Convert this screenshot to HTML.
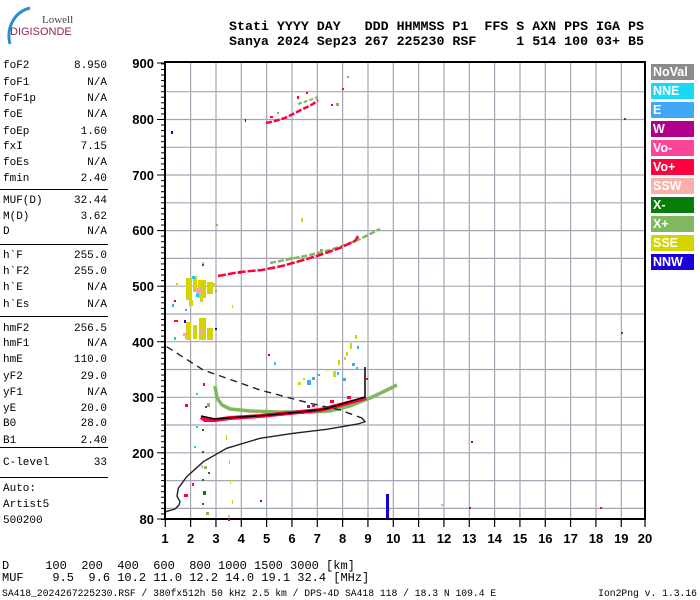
<!DOCTYPE html>
<html><head><meta charset="utf-8"><style>
html,body{margin:0;padding:0;background:#fff;width:700px;height:600px;overflow:hidden;position:relative}
.t{position:absolute;font-family:"Liberation Mono",monospace;font-size:11px;color:#000;white-space:pre;line-height:12px}
.v{position:absolute;font-family:"Liberation Mono",monospace;font-size:11px;color:#000;text-align:right;width:60px;left:47px;line-height:12px}
.sep{position:absolute;left:0;width:108px;height:0;border-top:1.5px solid #000}
.hd{position:absolute;font-family:"Liberation Mono",monospace;font-weight:bold;font-size:13.3px;white-space:pre;left:229px;line-height:14px}
.lg{position:absolute;left:651px;width:43px;height:16px;color:#fff;font-family:"Liberation Sans",sans-serif;font-weight:bold;font-size:12.5px;line-height:16px;padding-left:2px;box-sizing:border-box}
</style></head><body>
<svg width="700" height="600" style="position:absolute;left:0;top:0">
<path d="M10,44 C6,28 14,12 30,8" stroke="#2a8fd0" stroke-width="3" fill="none"/>
<text x="42" y="23" font-family="Liberation Serif,serif" font-size="11" fill="#444">Lowell</text>
<text x="10" y="35" font-family="Liberation Sans,sans-serif" font-size="11" fill="#a0205a">DIGISONDE</text>
<g stroke="#a4a6b4" stroke-width="1.2">
<line x1="190.6" y1="63" x2="190.6" y2="519"/><line x1="216" y1="63" x2="216" y2="519"/><line x1="241.3" y1="63" x2="241.3" y2="519"/><line x1="266.6" y1="63" x2="266.6" y2="519"/><line x1="292" y1="63" x2="292" y2="519"/><line x1="317.3" y1="63" x2="317.3" y2="519"/><line x1="342.6" y1="63" x2="342.6" y2="519"/><line x1="368" y1="63" x2="368" y2="519"/><line x1="393.3" y1="63" x2="393.3" y2="519"/><line x1="418.6" y1="63" x2="418.6" y2="519"/><line x1="444" y1="63" x2="444" y2="519"/><line x1="469.3" y1="63" x2="469.3" y2="519"/><line x1="494.6" y1="63" x2="494.6" y2="519"/><line x1="520" y1="63" x2="520" y2="519"/><line x1="545.3" y1="63" x2="545.3" y2="519"/><line x1="570.6" y1="63" x2="570.6" y2="519"/><line x1="596" y1="63" x2="596" y2="519"/><line x1="621.3" y1="63" x2="621.3" y2="519"/>
<line x1="165" y1="91.7" x2="645" y2="91.7"/><line x1="165" y1="119.5" x2="645" y2="119.5"/><line x1="165" y1="147.3" x2="645" y2="147.3"/><line x1="165" y1="175" x2="645" y2="175"/><line x1="165" y1="202.8" x2="645" y2="202.8"/><line x1="165" y1="230.6" x2="645" y2="230.6"/><line x1="165" y1="258.4" x2="645" y2="258.4"/><line x1="165" y1="286.2" x2="645" y2="286.2"/><line x1="165" y1="314" x2="645" y2="314"/><line x1="165" y1="341.7" x2="645" y2="341.7"/><line x1="165" y1="369.5" x2="645" y2="369.5"/><line x1="165" y1="397.3" x2="645" y2="397.3"/><line x1="165" y1="425" x2="645" y2="425"/><line x1="165" y1="452.8" x2="645" y2="452.8"/><line x1="165" y1="480.6" x2="645" y2="480.6"/><line x1="165" y1="508.4" x2="645" y2="508.4"/>
</g>
<rect x="165" y="62" width="480" height="457" fill="none" stroke="#000" stroke-width="2"/>
<g stroke="#000" stroke-width="1">
<line x1="157" y1="63" x2="165" y2="63"/><line x1="157" y1="119.5" x2="165" y2="119.5"/><line x1="157" y1="175" x2="165" y2="175"/><line x1="157" y1="230.6" x2="165" y2="230.6"/><line x1="157" y1="286.2" x2="165" y2="286.2"/><line x1="157" y1="341.7" x2="165" y2="341.7"/><line x1="157" y1="397.3" x2="165" y2="397.3"/><line x1="157" y1="452.8" x2="165" y2="452.8"/><line x1="157" y1="519" x2="165" y2="519"/>
</g>
<g id="minor" stroke="#000" stroke-width="1"></g>
<g stroke="#000" stroke-width="1.2" id="xt"></g>
<g font-family="Liberation Sans,sans-serif" font-weight="bold" font-size="13" text-anchor="end">
<text x="154" y="68">900</text><text x="154" y="124">800</text><text x="154" y="180">700</text><text x="154" y="235">600</text><text x="154" y="291">500</text><text x="154" y="347">400</text><text x="154" y="402">300</text><text x="154" y="458">200</text><text x="154" y="524">80</text>
</g>
<g font-family="Liberation Sans,sans-serif" font-weight="bold" font-size="13" text-anchor="middle">
<text x="165" y="543">1</text><text x="190.6" y="543">2</text><text x="216" y="543">3</text><text x="241.3" y="543">4</text><text x="266.6" y="543">5</text><text x="292" y="543">6</text><text x="317.3" y="543">7</text><text x="342.6" y="543">8</text><text x="368" y="543">9</text><text x="393.3" y="543">10</text><text x="418.6" y="543">11</text><text x="444" y="543">12</text><text x="469.3" y="543">13</text><text x="494.6" y="543">14</text><text x="520" y="543">15</text><text x="545.3" y="543">16</text><text x="570.6" y="543">17</text><text x="596" y="543">18</text><text x="621.3" y="543">19</text><text x="645" y="543">20</text>
</g>
<g fill="#d4d400">
<rect x="186" y="278" width="6" height="22"/><rect x="193" y="276" width="4" height="16"/><rect x="198" y="280" width="8" height="18"/><rect x="207" y="282" width="6" height="12"/><rect x="189" y="300" width="4" height="6"/><rect x="200" y="298" width="3" height="4"/>
<rect x="186" y="322" width="5" height="18"/><rect x="193" y="325" width="4" height="14"/><rect x="199" y="318" width="7" height="22"/><rect x="207" y="328" width="6" height="12"/><rect x="185" y="333" width="2" height="6"/>
<rect x="212" y="283" width="3" height="3"/><rect x="176" y="283" width="2" height="2"/><rect x="232" y="305" width="1" height="3"/>
<rect x="333" y="371" width="3" height="6"/><rect x="338" y="360" width="2" height="5"/><rect x="346" y="352" width="2" height="4"/><rect x="350" y="343" width="2" height="6"/><rect x="344" y="357" width="2" height="3"/><rect x="355" y="335" width="2" height="4"/><rect x="298" y="382" width="3" height="3"/><rect x="303" y="378" width="2" height="2"/><rect x="327" y="369" width="2" height="2"/><rect x="301" y="218" width="2" height="4"/>
<rect x="226" y="435" width="1" height="5"/><rect x="229" y="460" width="1" height="4"/><rect x="230" y="480" width="1" height="4"/><rect x="232" y="500" width="1" height="4"/><rect x="228" y="515" width="2" height="2"/>
</g>
<g fill="#f0a8a8"><rect x="196" y="288" width="5" height="8"/><rect x="183" y="333" width="4" height="3"/><rect x="199" y="329" width="5" height="4"/><rect x="202" y="262" width="2" height="3"/><rect x="201" y="465" width="2" height="3"/><rect x="388" y="508" width="2" height="3"/><rect x="441" y="504" width="2" height="2"/></g>
<g fill="#1cc8f0"><rect x="192" y="276" width="3" height="3"/><rect x="196" y="294" width="3" height="3"/><rect x="174" y="337" width="2" height="3"/><rect x="196" y="393" width="2" height="2"/><rect x="196" y="426" width="2" height="2"/><rect x="194" y="446" width="2" height="2"/><rect x="274" y="362" width="2" height="3"/></g>
<g fill="#40a8f0"><rect x="172" y="304" width="2" height="3"/><rect x="185" y="309" width="2" height="2"/><rect x="307" y="380" width="4" height="5"/><rect x="312" y="377" width="3" height="3"/><rect x="343" y="378" width="3" height="3"/><rect x="352" y="363" width="3" height="3"/><rect x="356" y="367" width="2" height="2"/><rect x="357" y="346" width="2" height="3"/><rect x="318" y="374" width="2" height="2"/><rect x="337" y="372" width="2" height="3"/></g>
<g fill="#b0008c"><rect x="174" y="300" width="2" height="2"/><rect x="238" y="271" width="3" height="3"/><rect x="268" y="354" width="2" height="2"/><rect x="307" y="405" width="3" height="3"/><rect x="228" y="519" width="2" height="2"/><rect x="469" y="507" width="2" height="2"/><rect x="471" y="441" width="2" height="2"/><rect x="260" y="500" width="2" height="2"/></g>
<g fill="#1400dc"><rect x="386" y="494" width="3" height="24"/><rect x="184" y="320" width="2" height="3"/><rect x="215" y="328" width="2" height="2"/><rect x="245" y="119" width="1" height="3"/><rect x="171" y="131" width="2" height="3"/></g>
<g fill="#107a10"><rect x="202" y="264" width="2" height="2"/><rect x="202" y="429" width="2" height="2"/><rect x="202" y="451" width="2" height="2"/><rect x="202" y="479" width="2" height="2"/><rect x="203" y="491" width="3" height="4"/><rect x="202" y="503" width="2" height="2"/><rect x="208" y="472" width="2" height="2"/><rect x="624" y="118" width="2" height="2"/><rect x="621" y="332" width="2" height="2"/><rect x="205" y="406" width="2" height="2"/></g>
<g fill="#ff0040"><rect x="174" y="320" width="4" height="2"/><rect x="203" y="383" width="2" height="3"/><rect x="185" y="404" width="3" height="3"/><rect x="184" y="494" width="4" height="3"/><rect x="192" y="483" width="2" height="3"/><rect x="600" y="507" width="2" height="2"/><rect x="366" y="378" width="2" height="2"/></g>
<polyline points="215,386 217,398 222,405 230,409 250,411 280,412 310,412 330,411 350,406 370,398 385,391 397,385" fill="none" stroke="#80b860" stroke-width="3.5"/>
<polyline points="270,263 290,259 310,255 330,250 345,245 360,239 380,229" fill="none" stroke="#80b860" stroke-width="2.5" stroke-dasharray="6,2"/>
<polyline points="298,104 310,100 318,97" fill="none" stroke="#80b860" stroke-width="2" stroke-dasharray="4,2"/>
<g fill="#80b860"><rect x="215" y="290" width="2" height="2"/><rect x="216" y="224" width="2" height="2"/><rect x="347" y="76" width="2" height="2"/><rect x="336" y="103" width="3" height="3"/><rect x="277" y="112" width="2" height="2"/><rect x="206" y="512" width="3" height="3"/><rect x="207" y="403" width="3" height="4"/><rect x="209" y="417" width="2" height="2"/><rect x="204" y="466" width="3" height="3"/><rect x="290" y="257" width="3" height="2"/><rect x="320" y="249" width="3" height="2"/></g>
<polyline points="201,417 205,420 215,420 230,418 260,416 290,413 320,410 340,405 355,401 366,398" fill="none" stroke="#ff0040" stroke-width="4"/>
<polyline points="218,276 240,272 262,270 282,266 300,261 320,255 340,248 355,241 358,236" fill="none" stroke="#ff0040" stroke-width="2.5" stroke-dasharray="8,2"/>
<polyline points="266,123 275,121 285,118 295,113 305,108 313,104 318,100" fill="none" stroke="#ff0040" stroke-width="2.5" stroke-dasharray="6,2"/>
<g fill="#ff0040"><rect x="297" y="96" width="2" height="3"/><rect x="306" y="92" width="2" height="2"/><rect x="342" y="88" width="2" height="2"/><rect x="331" y="104" width="2" height="2"/><rect x="330" y="400" width="4" height="3"/><rect x="347" y="396" width="4" height="3"/><rect x="300" y="411" width="4" height="3"/><rect x="312" y="405" width="3" height="2"/><rect x="270" y="116" width="3" height="2"/></g>
<polyline points="201,416 215,419 240,417 270,415 300,412 325,409 345,403 365,397 365,367" fill="none" stroke="#000" stroke-width="1.5"/>
<polyline points="165.7,511.7 175,509 179,505 180,501.7 177,496 178.3,488.3 186.7,476.7 203.3,461.7 226.7,448.3 260,438.3 293.3,433.3 326.7,429.3 358,424 365,421.7 362,418" fill="none" stroke="#222" stroke-width="1.4"/>
<polyline points="166.7,346.7 203.3,370 260,390 310,403.3 340,410 362,418" fill="none" stroke="#222" stroke-width="1.4" stroke-dasharray="7,5"/>
</svg>
<script>
var g=document.getElementById('minor'),s='';
for(var h=80;h<=900;h+=10){var y=519.5-(h-80)*0.5556;s+='<line x1="161" y1="'+y+'" x2="165" y2="'+y+'"/>';}
g.innerHTML=s;
var x=document.getElementById('xt');s='';
for(var f=1;f<=20;f++){var xx=165.3+(f-1)*25.33;if(f==20)xx=645;s+='<line x1="'+xx+'" y1="519" x2="'+xx+'" y2="527"/>';}
x.innerHTML=s;
</script>
<div class="hd" style="top:20px">Stati YYYY DAY   DDD HHMMSS P1  FFS S AXN PPS IGA PS</div>
<div class="hd" style="top:35px">Sanya 2024 Sep23 267 225230 RSF     1 514 100 03+ B5</div>

<div class="t" style="left:3px;top:60px">foF2</div><div class="v" style="top:60px">8.950</div>
<div class="t" style="left:3px;top:77px">foF1</div><div class="v" style="top:77px">N/A</div>
<div class="t" style="left:3px;top:93px">foF1p</div><div class="v" style="top:93px">N/A</div>
<div class="t" style="left:3px;top:109px">foE</div><div class="v" style="top:109px">N/A</div>
<div class="t" style="left:3px;top:126px">foEp</div><div class="v" style="top:126px">1.60</div>
<div class="t" style="left:3px;top:141px">fxI</div><div class="v" style="top:141px">7.15</div>
<div class="t" style="left:3px;top:157px">foEs</div><div class="v" style="top:157px">N/A</div>
<div class="t" style="left:3px;top:173px">fmin</div><div class="v" style="top:173px">2.40</div>
<div class="sep" style="top:189px"></div>
<div class="t" style="left:3px;top:195px">MUF(D)</div><div class="v" style="top:195px">32.44</div>
<div class="t" style="left:3px;top:211px">M(D)</div><div class="v" style="top:211px">3.62</div>
<div class="t" style="left:3px;top:226px">D</div><div class="v" style="top:226px">N/A</div>
<div class="sep" style="top:244px"></div>
<div class="t" style="left:3px;top:250px">h`F</div><div class="v" style="top:250px">255.0</div>
<div class="t" style="left:3px;top:266px">h`F2</div><div class="v" style="top:266px">255.0</div>
<div class="t" style="left:3px;top:282px">h`E</div><div class="v" style="top:282px">N/A</div>
<div class="t" style="left:3px;top:299px">h`Es</div><div class="v" style="top:299px">N/A</div>
<div class="sep" style="top:316px"></div>
<div class="t" style="left:3px;top:323px">hmF2</div><div class="v" style="top:323px">256.5</div>
<div class="t" style="left:3px;top:338px">hmF1</div><div class="v" style="top:338px">N/A</div>
<div class="t" style="left:3px;top:354px">hmE</div><div class="v" style="top:354px">110.0</div>
<div class="t" style="left:3px;top:371px">yF2</div><div class="v" style="top:371px">29.0</div>
<div class="t" style="left:3px;top:387px">yF1</div><div class="v" style="top:387px">N/A</div>
<div class="t" style="left:3px;top:403px">yE</div><div class="v" style="top:403px">20.0</div>
<div class="t" style="left:3px;top:418px">B0</div><div class="v" style="top:418px">28.0</div>
<div class="t" style="left:3px;top:435px">B1</div><div class="v" style="top:435px">2.40</div>
<div class="sep" style="top:447px"></div>
<div class="t" style="left:3px;top:457px">C-level</div><div class="v" style="top:457px">33</div>
<div class="sep" style="top:477px"></div>
<div class="t" style="left:3px;top:483px">Auto:</div>
<div class="t" style="left:3px;top:499px">Artist5</div>
<div class="t" style="left:3px;top:515px">500200</div>

<div class="t" style="left:2px;top:560px;font-size:12px">D     100  200  400  600  800 1000 1500 3000 [km]</div>
<div class="t" style="left:2px;top:572px;font-size:12px">MUF    9.5  9.6 10.2 11.0 12.2 14.0 19.1 32.4 [MHz]</div>
<div class="t" style="left:2px;top:589px;font-size:9.7px;line-height:10px">SA418_2024267225230.RSF / 380fx512h 50 kHz 2.5 km / DPS-4D SA418 118 / 18.3 N 109.4 E</div>
<div class="t" style="right:3px;top:589px;font-size:9.7px;line-height:10px">Ion2Png v. 1.3.16</div>

<div class="lg" style="top:64px;background:#8c8c8c">NoVal</div>
<div class="lg" style="top:83px;background:#1cd8f4">NNE</div>
<div class="lg" style="top:102px;background:#40a8f4">E</div>
<div class="lg" style="top:121px;background:#b0008c">W</div>
<div class="lg" style="top:140px;background:#fc4498">Vo-</div>
<div class="lg" style="top:159px;background:#ff0040">Vo+</div>
<div class="lg" style="top:178px;background:#f8b0a8">SSW</div>
<div class="lg" style="top:197px;background:#087c08">X-</div>
<div class="lg" style="top:216px;background:#80b860">X+</div>
<div class="lg" style="top:235px;background:#d4d400">SSE</div>
<div class="lg" style="top:254px;background:#1c00dc">NNW</div>
</body></html>
